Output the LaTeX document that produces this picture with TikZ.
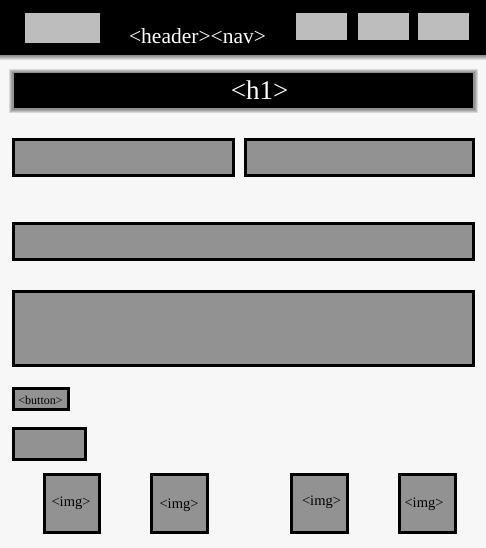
\documentclass[tikz,border=0pt]{standalone}
\usepackage{fontspec}
\setmainfont{Liberation Serif}
\definecolor{bgc}{HTML}{F7F7F7}
\definecolor{boxc}{HTML}{929292}
\definecolor{navc}{HTML}{BDBDBD}
\tikzset{
  box/.style={draw=black, fill=boxc, line width=3pt, inner sep=0pt, outer sep=0pt},
  navbox/.style={fill=navc, draw=none, inner sep=0pt, outer sep=0pt},
  lbl/.style={text=black, inner sep=0pt},
  wlbl/.style={text=white, inner sep=0pt},
}
\begin{document}
\begin{tikzpicture}[x=1pt,y=-1pt]
\useasboundingbox (0,0) rectangle (486,548);
\fill[bgc] (0,0) rectangle (486,548);
% header with blurred bottom edge
\foreach \i in {6,5,4,3,2,1} {
  \fill[black, opacity=0.1] (-8,-8) rectangle (494,54+\i);
}
\fill[black] (0,0) rectangle (486,55);
% h1 bar with blur
\foreach \i in {4,3,2,1} {
  \fill[black, opacity=0.12] (13-\i,73-\i) rectangle (474+\i,109+\i);
}
\node[fill=black, minimum width=459pt, minimum height=35pt, inner sep=0pt] (h1bar) at (243.5,91) {};
\node[wlbl, font=\fontsize{27}{30}\selectfont, anchor=base] (h1txt) at (259.5,100) {<h1>};
% header items
\node[navbox, minimum width=75pt, minimum height=30pt] (logo) at (62.5,28) {};
\node[navbox, minimum width=51pt, minimum height=27pt] (nav1) at (321.5,26.5) {};
\node[navbox, minimum width=51pt, minimum height=27pt] (nav2) at (383.5,26.5) {};
\node[navbox, minimum width=51pt, minimum height=27pt] (nav3) at (443.5,26.5) {};
\node[wlbl, font=\fontsize{21.5}{24}\selectfont, anchor=base] (hdrtxt) at (197.5,44) {<header><nav>};
% content boxes
\node[box, minimum width=220pt, minimum height=36pt] (b1) at (123.5,157.5) {};
\node[box, minimum width=228pt, minimum height=36pt] (b2) at (359.5,157.5) {};
\node[box, minimum width=460pt, minimum height=36pt] (b3) at (243.5,241.5) {};
\node[box, minimum width=460pt, minimum height=74pt] (b4) at (243.5,328.5) {};
\node[box, minimum width=55pt, minimum height=21pt] (btn) at (41,399) {};
\node[lbl, font=\fontsize{12}{13}\selectfont] (btntxt) at (40.5,400) {<button>};
\node[box, minimum width=72pt, minimum height=31pt] (b5) at (49.5,444) {};
% images
\node[box, minimum width=55pt, minimum height=58pt] (img1) at (71.5,503.5) {};
\node[box, minimum width=56pt, minimum height=58pt] (img2) at (179.5,503.5) {};
\node[box, minimum width=56pt, minimum height=58pt] (img3) at (319.5,503.5) {};
\node[box, minimum width=56pt, minimum height=58pt] (img4) at (427.5,503.5) {};
\node[lbl, font=\fontsize{14.5}{16}\selectfont] (i1) at (71,503) {<img>};
\node[lbl, font=\fontsize{14.5}{16}\selectfont] (i2) at (179,505) {<img>};
\node[lbl, font=\fontsize{14.5}{16}\selectfont] (i3) at (321.5,502) {<img>};
\node[lbl, font=\fontsize{14.5}{16}\selectfont] (i4) at (424,504) {<img>};
\end{tikzpicture}
\end{document}
